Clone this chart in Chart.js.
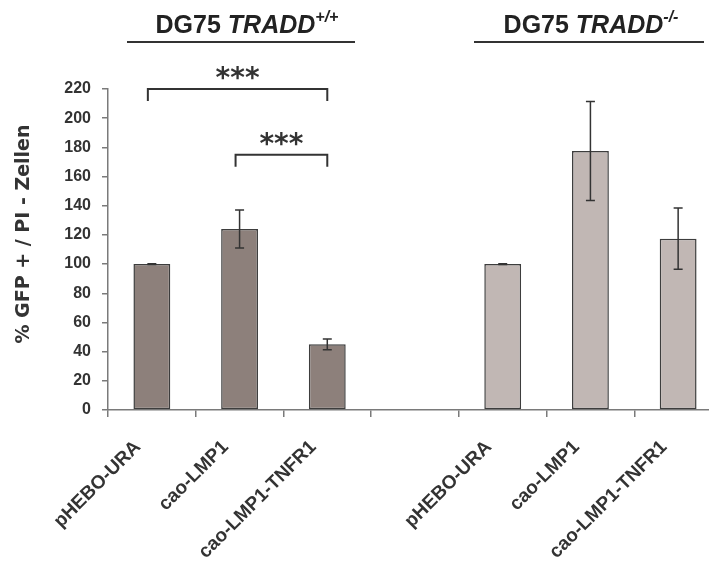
<!DOCTYPE html>
<html>
<head>
<meta charset="utf-8">
<style>
  html, body { margin: 0; padding: 0; background: #fff; overflow: hidden; }
  #wrap { width: 709px; height: 562px; overflow: hidden; position: relative; }
  #wrap canvas { position: absolute; left: 0; top: 0; }
</style>
<script src="https://cdn.jsdelivr.net/npm/chart.js@4.4.1/dist/chart.umd.min.js"></script>
</head>
<body>
<div id="wrap"><canvas id="c" width="724" height="562"></canvas></div>
<script>
// Constructs per cell line; the empty slot separates the two groups
const categories = ['pHEBO-URA', 'cao-LMP1', 'cao-LMP1-TNFR1', '', 'pHEBO-URA', 'cao-LMP1', 'cao-LMP1-TNFR1'];
// % GFP+ / PI- cells, normalised to pHEBO-URA = 100
const values = [100, 124, 45, null, 100, 177.5, 117.4];
// standard deviation
const errors = [0.3, 13, 3.7, null, 0.3, 34, 21];
// TRADD genotype of each bar
const genotype = ['+/+', '+/+', '+/+', null, '-/-', '-/-', '-/-'];
// group headers
const groupNames = ['DG75 ', 'DG75 '];
const groupGene = ['TRADD', 'TRADD'];
const groupSup = ['+/+', '-/-'];
// y axis
const yMin = 0, yMax = 220, yStep = 20;
const yTitle = '% GFP + / PI - Zellen';
// significance brackets (bar indices, height in axis units, label)
const sigFrom = [0, 1];
const sigTo = [2, 2];
const sigLevel = [220, 175];
const sigLabel = ['***', '***'];

const DARK = '#8d807b';
const LIGHT = '#c1b7b4';
const EDGE = '#3d3d3d';
const AXIS = '#7a7a7a';
const TEXT = '#333333';

const barColors = genotype.map(g => g === '+/+' ? DARK : LIGHT);

const errorBars = {
  id: 'errorBars',
  afterDatasetsDraw(chart) {
    const ctx = chart.ctx;
    const y = chart.scales.y;
    const meta = chart.getDatasetMeta(0);
    ctx.save();
    ctx.strokeStyle = '#333';
    ctx.lineWidth = 1.5;
    values.forEach((v, i) => {
      if (v == null || errors[i] == null) return;
      const x = meta.data[i].x;
      const top = y.getPixelForValue(v + errors[i]);
      const bot = y.getPixelForValue(v - errors[i]);
      const cap = 4.5;
      ctx.beginPath();
      ctx.moveTo(x, top); ctx.lineTo(x, bot);
      ctx.moveTo(x - cap, top); ctx.lineTo(x + cap, top);
      ctx.moveTo(x - cap, bot); ctx.lineTo(x + cap, bot);
      ctx.stroke();
    });
    ctx.restore();
  }
};

const brackets = {
  id: 'brackets',
  afterDraw(chart) {
    const ctx = chart.ctx;
    const y = chart.scales.y;
    const meta = chart.getDatasetMeta(0);
    ctx.save();
    ctx.strokeStyle = '#333';
    ctx.lineWidth = 2;
    ctx.fillStyle = '#333';
    ctx.font = 'bold 28px "DejaVu Sans"';
    ctx.textAlign = 'center';
    ctx.textBaseline = 'middle';
    sigFrom.forEach((f, k) => {
      const x1 = meta.data[f].x - 4;
      const x2 = meta.data[sigTo[k]].x;
      const yy = y.getPixelForValue(sigLevel[k]);
      ctx.beginPath();
      ctx.moveTo(x1, yy + 12); ctx.lineTo(x1, yy); ctx.lineTo(x2, yy); ctx.lineTo(x2, yy + 12);
      ctx.stroke();
      ctx.fillText(sigLabel[k], (x1 + x2) / 2, yy - 9);
    });
    ctx.restore();
  }
};

const headers = {
  id: 'headers',
  afterDraw(chart) {
    const ctx = chart.ctx;
    ctx.save();
    ctx.fillStyle = '#222';
    ctx.textBaseline = 'alphabetic';
    const centers = [247, 591];
    const lines = [[127, 355], [474, 704]];
    groupNames.forEach((name, k) => {
      const fA = 'bold 25px "Liberation Sans", Arial, sans-serif';
      const fB = 'italic bold 25px "Liberation Sans", Arial, sans-serif';
      const fC = 'italic bold 16px "Liberation Sans", Arial, sans-serif';
      ctx.font = fA; const wA = ctx.measureText(name).width;
      ctx.font = fB; const wB = ctx.measureText(groupGene[k]).width;
      ctx.font = fC; const wC = ctx.measureText(groupSup[k]).width;
      let x = centers[k] - (wA + wB + wC) / 2;
      ctx.textAlign = 'left';
      ctx.font = fA; ctx.fillText(name, x, 33); x += wA;
      ctx.font = fB; ctx.fillText(groupGene[k], x, 33); x += wB;
      ctx.font = fC; ctx.fillText(groupSup[k], x, 22);
      ctx.strokeStyle = '#333';
      ctx.lineWidth = 2;
      ctx.beginPath();
      ctx.moveTo(lines[k][0], 42); ctx.lineTo(lines[k][1], 42);
      ctx.stroke();
    });
    // y axis title
    ctx.translate(24, 234);
    ctx.rotate(-Math.PI / 2);
    ctx.textAlign = 'center';
    ctx.textBaseline = 'middle';
    ctx.fillStyle = TEXT;
    ctx.font = 'bold 19px "DejaVu Sans"';
    ctx.fillText(yTitle, 0, 0);
    ctx.restore();
  }
};

new Chart(document.getElementById('c'), {
  type: 'bar',
  data: {
    labels: categories,
    datasets: [{
      data: values,
      backgroundColor: barColors,
      borderColor: EDGE,
      borderWidth: 1.5,
      borderSkipped: false,
      barPercentage: 0.42,
      categoryPercentage: 1
    }]
  },
  options: {
    responsive: false,
    animation: false,
    events: [],
    layout: { padding: { top: 89, left: 0, right: 2, bottom: 0 } },
    plugins: { legend: { display: false }, tooltip: { enabled: false } },
    scales: {
      x: {
        afterFit(scale) { scale.height = 152; },
        grid: { drawOnChartArea: false, drawTicks: true, tickLength: 7, color: AXIS, lineWidth: 1.5, offset: true },
        border: { display: true, color: AXIS, width: 1.5 },
        ticks: {
          autoSkip: false, maxRotation: 45, minRotation: 45,
          padding: 19, labelOffset: -14,
          color: TEXT,
          font: { family: '"Liberation Sans", Arial, sans-serif', weight: 'bold', size: 19 }
        }
      },
      y: {
        min: yMin, max: yMax,
        afterFit(scale) { scale.width = 108; },
        grid: { drawOnChartArea: false, drawTicks: true, tickLength: 6, color: AXIS, lineWidth: 1.5 },
        border: { display: true, color: AXIS, width: 1.5 },
        ticks: {
          stepSize: yStep, padding: 11, color: TEXT,
          font: { family: '"Liberation Sans", Arial, sans-serif', weight: 'bold', size: 16 }
        }
      }
    }
  },
  plugins: [errorBars, brackets, headers]
});
</script>
</body>
</html>
